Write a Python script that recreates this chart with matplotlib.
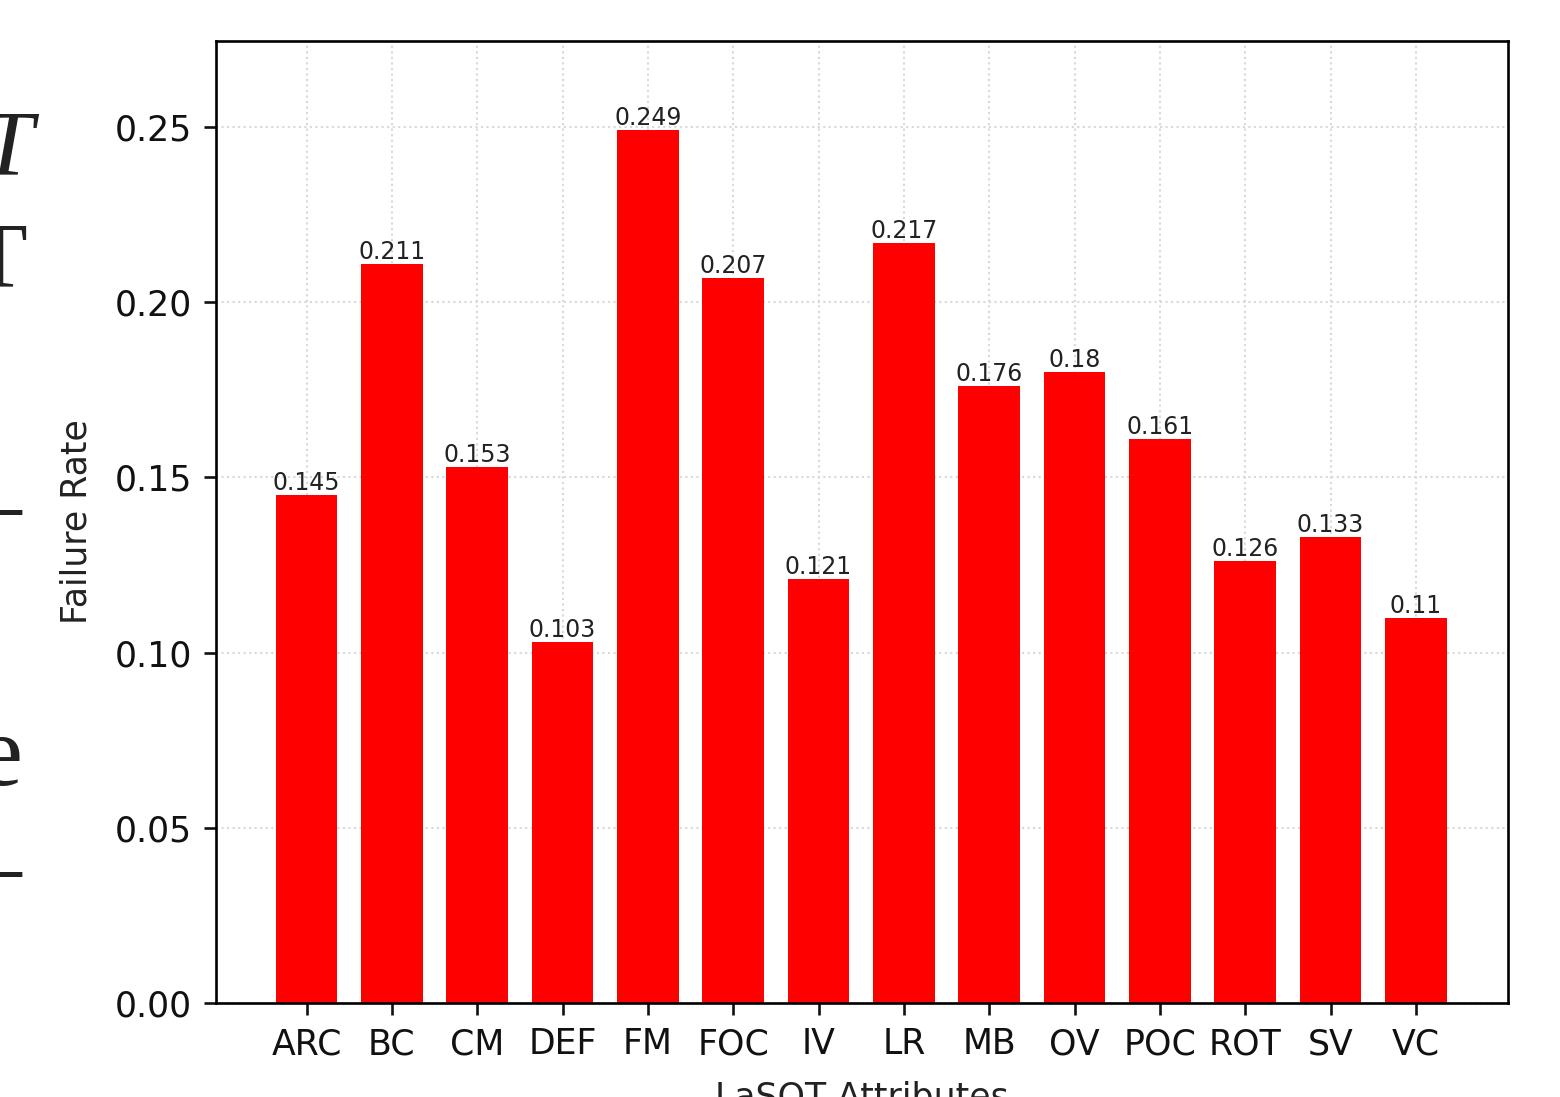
import matplotlib
matplotlib.use("Agg")
import matplotlib.pyplot as plt

attributes = ["ARC", "BC", "CM", "DEF", "FM", "FOC", "IV", "LR", "MB", "OV", "POC", "ROT", "SV", "VC"]
failure_rate = [0.145, 0.211, 0.153, 0.103, 0.249, 0.207, 0.121, 0.217, 0.176, 0.18, 0.161, 0.126, 0.133, 0.11]

fig = plt.figure(figsize=(15.6, 10.97), dpi=100)
ax = fig.add_axes([0.1385, 0.0857, 0.8282, 0.8769])

x = list(range(len(attributes)))
ax.bar(x, failure_rate, width=0.72, color="red")
for i, v in enumerate(failure_rate):
    ax.text(i, v, str(v), ha="center", va="bottom", fontsize=17, color="#222222")

ax.set_xticks(x)
ax.set_xticklabels(attributes)
ax.set_xlim(-1.06, 14.08)
ax.set_ylim(0, 0.2745)
ax.set_yticks([0, 0.05, 0.10, 0.15, 0.20, 0.25])
ax.yaxis.set_major_formatter(matplotlib.ticker.FormatStrFormatter("%.2f"))
ax.set_axisbelow(True)
ax.grid(True, linestyle=":", color="#d8d8d8", linewidth=1.5)
ax.tick_params(labelsize=25, length=8.5, width=1.9, pad=9, colors="#111111")
for s in ax.spines.values():
    s.set_linewidth(1.9)
ax.set_xlabel("LaSOT Attributes", fontsize=25, color="#222222", labelpad=14)
ax.set_ylabel("Failure Rate", fontsize=25, color="#222222", labelpad=15)

# fragments of the surrounding page text cut off at the left edge
serif = "Liberation Serif"
fig.text(33 / 1560, 1 - 174 / 1097, "T", ha="right", va="baseline", fontsize=68, family=serif, style="italic", color="#222222")
fig.text(27 / 1560, 1 - 286 / 1097, "T", ha="right", va="baseline", fontsize=68, family=serif, color="#222222")
fig.text(21 / 1560, 1 - 535 / 1097, "\u2013", ha="right", va="baseline", fontsize=70, family=serif, color="#222222")
fig.text(23 / 1560, 1 - 785 / 1097, "e", ha="right", va="baseline", fontsize=73, family=serif, color="#222222")
fig.text(21 / 1560, 1 - 897 / 1097, "\u2013", ha="right", va="baseline", fontsize=70, family=serif, color="#222222")

fig.savefig("out.png", dpi=100)
